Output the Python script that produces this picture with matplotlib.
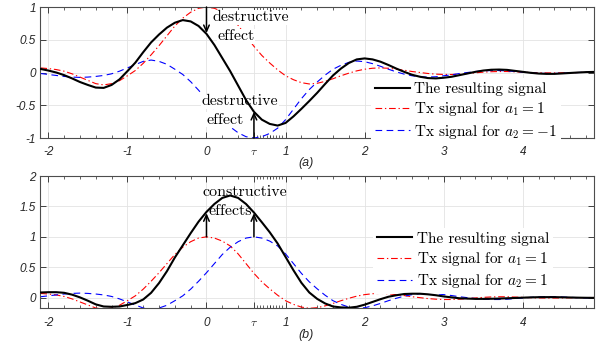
import numpy as np
import matplotlib
matplotlib.use('Agg')
import matplotlib.pyplot as plt

plt.rcParams['mathtext.fontset'] = 'cm'
plt.rcParams['axes.unicode_minus'] = False

# time axis in symbol periods, sampled every 0.1
t = np.round(np.linspace(-2.1, 4.9, 71), 2)
tau = 0.6

# pulse sent at t = 0
pulse_1 = [0.07, 0.06, 0.045, 0.02, -0.02, -0.07, -0.12, -0.17, -0.19, -0.17,
           -0.125, -0.05, 0.03, 0.14, 0.27, 0.41, 0.56, 0.71, 0.83, 0.92, 0.98,
           1.00, 0.98, 0.93, 0.85, 0.72, 0.56, 0.40, 0.26, 0.145, 0.04,
           -0.05, -0.11, -0.155, -0.175, -0.165, -0.135, -0.095, -0.05, -0.01, 0.025,
           0.05, 0.065, 0.07, 0.065, 0.05, 0.035, 0.015, 0.0, -0.015, -0.025,
           -0.03, -0.03, -0.025, -0.015, -0.005, 0.005, 0.012, 0.015, 0.015, 0.01,
           0.005, 0.0, -0.004, -0.006, -0.006, -0.004, -0.002, 0.0, 0.002, 0.003]

# pulse sent at t = tau
pulse_2 = [0.015, 0.03, 0.045, 0.06, 0.07, 0.075, 0.07, 0.06, 0.045, 0.02,
           -0.02, -0.07, -0.12, -0.17, -0.19, -0.17, -0.125, -0.05, 0.03, 0.14,
           0.27, 0.41, 0.56, 0.71, 0.83, 0.92, 0.98,
           1.00, 0.98, 0.93, 0.85, 0.72, 0.56, 0.40, 0.26, 0.145, 0.04,
           -0.05, -0.11, -0.155, -0.175, -0.165, -0.135, -0.095, -0.05, -0.01, 0.025,
           0.05, 0.065, 0.07, 0.065, 0.05, 0.035, 0.015, 0.0, -0.015, -0.025,
           -0.03, -0.03, -0.025, -0.015, -0.005, 0.005, 0.012, 0.015, 0.015, 0.01,
           0.005, 0.0, -0.004, -0.006]

# symbol values (a1, a2) for each panel
symbols_a = (1, -1)
symbols_b = (1, 1)

xticks = [-2, -1, 0, tau, 1, 2, 3, 4]
xticklabels = ['-2', '-1', '0', r'$\tau$', '1', '2', '3', '4']
yticks_a = [-1, -0.5, 0, 0.5, 1]
yticks_b = [0, 0.5, 1, 1.5, 2]

tick_col = '#262626'
serif = 'cmr10'
txt_size = 11.5


def draw_panel(ax, a1, a2, ylim, yticks):
    s1 = a1 * np.array(pulse_1)
    s2 = a2 * np.array(pulse_2)
    total = s1 + s2

    ax.plot(t, total, color='black', lw=1.5, label='The resulting signal', zorder=6)
    ax.plot(t, s1, color='red', lw=0.8, linestyle=(0, (6, 2.5, 1.2, 2.5)),
            label=r'Tx signal for $a_1 = %d$' % a1, zorder=2)
    ax.plot(t, s2, color='blue', lw=0.8, linestyle=(0, (6, 4)),
            label=r'Tx signal for $a_2 = %d$' % a2, zorder=2)

    ax.set_xlim(-2.105, 4.9)
    ax.set_ylim(*ylim)
    ax.set_xticks(xticks)
    ax.set_xticklabels(xticklabels)
    minor = list(np.round(np.arange(-2.0, 4.9, 0.2), 2)) + list(np.round(np.arange(0.64, 0.97, 0.04), 2))
    ax.set_xticks(minor, minor=True)
    ax.set_yticks(yticks)
    ax.set_yticklabels(['%g' % v for v in yticks])
    ax.grid(True, which='major', color='#e3e3e3', lw=0.6)
    ax.set_axisbelow(True)
    ax.tick_params(which='both', direction='in', top=True, right=True, color=tick_col,
                   labelcolor=tick_col, labelsize=8.5)
    ax.tick_params(which='major', length=4, width=0.6)
    ax.tick_params(which='minor', length=2.5, width=0.5)
    ax.tick_params(axis='x', pad=6)
    ax.tick_params(axis='y', pad=3)
    for lbl in ax.get_xticklabels() + ax.get_yticklabels():
        lbl.set_fontfamily('Liberation Sans')
        lbl.set_fontstyle('italic')
    for sp in ax.spines.values():
        sp.set_color('#4d4d4d')
        sp.set_linewidth(0.8)
    return ax


fig = plt.figure(figsize=(6.07, 3.5), dpi=100)
ax1 = fig.add_axes([0.0659, 0.6057, 0.9127, 0.3743])
ax2 = fig.add_axes([0.0659, 0.1191, 0.9127, 0.3780])

draw_panel(ax1, *symbols_a, (-1, 1), yticks_a)
draw_panel(ax2, *symbols_b, (-0.175, 2), yticks_b)

arrow = dict(arrowstyle='->,head_length=0.45,head_width=0.2', color='black', lw=1.1,
             shrinkA=0, shrinkB=0)
box = dict(facecolor='white', edgecolor='none', pad=0.5)

# (a) destructive effects
ax1.annotate('', xy=(0, 0.6), xytext=(0, 1.0), arrowprops=arrow, zorder=7)
ax1.annotate('', xy=(tau, -0.6), xytext=(tau, -1.0), arrowprops=arrow, zorder=7)
ax1.text(0.08, 0.84, 'destructive', family=serif, fontsize=txt_size, va='center', bbox=box, zorder=4)
ax1.text(0.14, 0.55, 'effect', family=serif, fontsize=txt_size, va='center', bbox=box, zorder=4)
ax1.text(-0.063, -0.44, 'destructive', family=serif, fontsize=txt_size, va='center', bbox=box, zorder=4)
ax1.text(0.0, -0.72, 'effect', family=serif, fontsize=txt_size, va='center', bbox=box, zorder=4)

# (b) constructive effects
ax2.annotate('', xy=(0, 1.39), xytext=(0, 1.0), arrowprops=arrow, zorder=7)
ax2.annotate('', xy=(tau, 1.39), xytext=(tau, 1.0), arrowprops=arrow, zorder=7)
ax2.text(-0.05, 1.74, 'constructive', family=serif, fontsize=txt_size, va='center', zorder=4)
ax2.text(0.03, 1.42, 'effects', family=serif, fontsize=txt_size, va='center', zorder=4)

leg_kw = dict(loc='upper left', prop={'family': serif, 'size': 11}, frameon=True,
              facecolor='white', edgecolor='none', framealpha=1, borderaxespad=0,
              borderpad=0.25, handlelength=2.3, handletextpad=0.3, labelspacing=0.28)
ax1.legend(bbox_to_anchor=(0.597, 0.455), **leg_kw)
ax2.legend(bbox_to_anchor=(0.601, 0.608), **leg_kw)

fig.text(306 / 607, 1 - 163 / 350, '(a)', ha='center', va='center', fontsize=9,
         family='Liberation Sans', style='italic', color=tick_col)
fig.text(306 / 607, 1 - 335 / 350, '(b)', ha='center', va='center', fontsize=9,
         family='Liberation Sans', style='italic', color=tick_col)

fig.savefig('out.png', dpi=100)
